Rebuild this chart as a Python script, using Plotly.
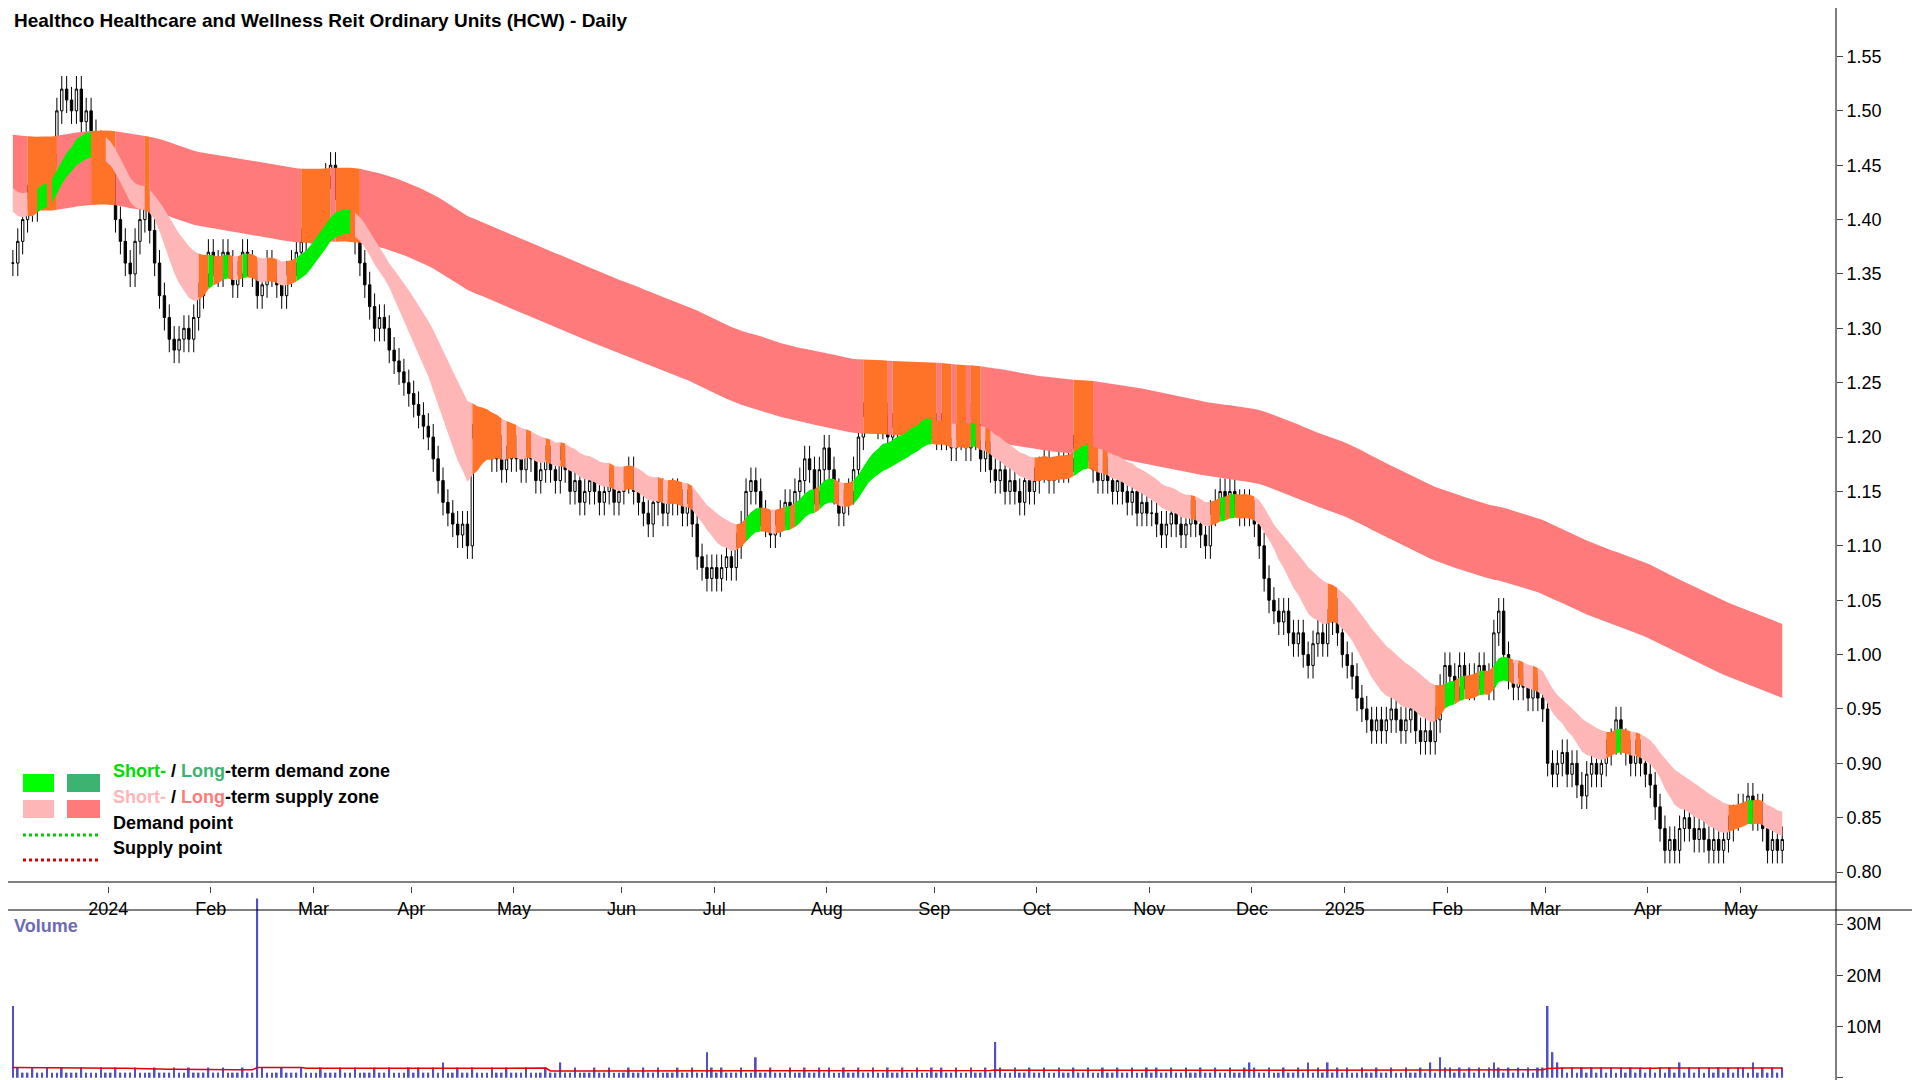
import numpy as np
import plotly.graph_objects as go
from plotly.subplots import make_subplots

# daily closes, grouped by month (Dec 2023 .. May 2025)
closes_by_month = [
    [1.36,1.38,1.40,1.42,1.41,1.44,1.45,1.43,1.46,1.50,1.52,1.51,1.50,1.52,1.49,1.50,1.48,1.47,1.46,1.45],
    [1.43,1.40,1.38,1.36,1.35,1.38,1.40,1.41,1.39,1.36,1.33,1.31,1.29,1.28,1.29,1.30,1.29,1.31,1.33,1.35,1.37],
    [1.36,1.35,1.37,1.36,1.34,1.35,1.37,1.36,1.35,1.33,1.34,1.36,1.35,1.34,1.33,1.35,1.36,1.37,1.38,1.39,1.41],
    [1.42,1.43,1.44,1.45,1.43,1.42,1.41,1.40,1.38,1.36,1.34,1.32,1.30,1.31,1.30,1.28,1.27,1.26,1.25,1.24],
    [1.23,1.22,1.21,1.20,1.18,1.16,1.14,1.13,1.12,1.11,1.12,1.10,1.20,1.19,1.21,1.20,1.18,1.19,1.17,1.18,1.19],
    [1.18,1.17,1.19,1.18,1.16,1.17,1.18,1.17,1.16,1.18,1.17,1.15,1.16,1.14,1.15,1.16,1.15,1.14,1.15,1.16,1.14,1.15],
    [1.16,1.17,1.15,1.14,1.13,1.12,1.14,1.15,1.13,1.14,1.15,1.14,1.13,1.14,1.12,1.09,1.08,1.07,1.08],
    [1.07,1.08,1.09,1.08,1.10,1.12,1.15,1.16,1.15,1.13,1.12,1.11,1.12,1.13,1.14,1.13,1.15,1.16,1.18,1.17,1.15,1.17,1.19],
    [1.17,1.15,1.13,1.14,1.15,1.17,1.20,1.22,1.23,1.22,1.21,1.22,1.20,1.21,1.22,1.21,1.22,1.23,1.22,1.24,1.23,1.21],
    [1.20,1.21,1.20,1.19,1.20,1.21,1.19,1.22,1.20,1.18,1.19,1.17,1.16,1.17,1.15,1.16,1.15,1.14,1.16,1.15,1.16],
    [1.17,1.18,1.16,1.17,1.18,1.17,1.18,1.19,1.20,1.21,1.19,1.17,1.16,1.17,1.16,1.15,1.16,1.15,1.14,1.15,1.13,1.14,1.13],
    [1.13,1.12,1.11,1.12,1.13,1.12,1.11,1.12,1.13,1.12,1.11,1.10,1.13,1.14,1.15,1.14,1.15,1.14,1.13,1.14,1.13],
    [1.12,1.10,1.07,1.05,1.04,1.03,1.04,1.02,1.01,1.02,1.00,0.99,1.01,1.02,1.01,1.03,1.04,1.02,1.00],
    [0.99,0.98,0.96,0.95,0.94,0.93,0.94,0.93,0.94,0.95,0.94,0.93,0.94,0.95,0.93,0.92,0.93,0.92,0.94,0.97,0.99],
    [0.98,0.97,0.99,0.98,0.97,0.98,0.99,0.98,0.97,1.02,1.04,1.00,0.98,0.97,0.98,0.97,0.96,0.97,0.96,0.95],
    [0.90,0.89,0.90,0.91,0.89,0.90,0.88,0.87,0.89,0.90,0.89,0.90,0.91,0.92,0.94,0.92,0.91,0.90,0.91,0.90,0.89],
    [0.88,0.86,0.84,0.82,0.83,0.82,0.84,0.85,0.84,0.83,0.84,0.83,0.82,0.83,0.82,0.83,0.84,0.85,0.86],
    [0.86,0.87,0.85,0.86,0.84,0.82,0.83,0.82,0.83],
]
# daily volume in millions, same grouping
volume_by_month = [
    [14,2,1,1,2,1,1,2,1,1,2,1,1,1,2,1,1,1,2,1],
    [1,2,1,1,1,2,1,1,1,2,1,1,1,2,1,1,2,1,1,1,2],
    [1,1,2,1,1,1,2,1,1,35,2,1,1,1,2,1,1,1,2,1,1],
    [1,2,1,1,1,2,1,1,2,1,1,1,2,1,1,2,1,1,1,2],
    [1,2,1,1,2,1,3,1,1,2,1,1,2,1,1,1,2,1,1,2,1],
    [1,1,2,1,1,1,2,1,1,3,1,1,2,1,1,1,2,1,1,2,1,1],
    [1,2,1,1,2,1,1,2,1,1,1,2,1,1,2,1,1,5,2],
    [1,2,1,1,1,2,1,1,4,1,1,2,1,1,1,2,1,1,2,1,1,2,1],
    [2,1,1,2,1,1,2,1,1,2,1,1,2,1,1,2,1,1,2,1,1,2],
    [1,2,1,1,2,1,1,2,1,1,2,1,7,2,1,1,2,1,1,2,1],
    [1,2,1,1,2,1,1,2,1,1,2,1,1,2,1,1,2,1,1,2,1,1,2],
    [1,2,1,1,2,1,1,2,1,1,2,1,1,2,1,1,2,1,1,2,3],
    [2,1,1,2,1,1,2,1,1,2,1,3,1,2,1,3,1,2,1],
    [2,1,1,2,1,1,2,1,1,2,1,1,2,1,1,2,1,3,1,4,2],
    [2,1,2,1,2,1,2,1,2,3,2,1,2,1,2,1,2,1,2,2],
    [14,5,3,2,1,2,1,2,1,2,1,2,1,2,1,2,1,2,1,2,1],
    [2,1,2,1,2,1,3,1,2,1,2,1,2,1,2,1,2,1,2],
    [2,1,3,1,2,1,2,1,2],
]
month_labels = ["2024","Feb","Mar","Apr","May","Jun","Jul","Aug","Sep","Oct","Nov","Dec",
                "2025","Feb","Mar","Apr","May"]

close = np.array([c for m in closes_by_month for c in m])
vol = np.array([v for m in volume_by_month for v in m], dtype=float) * 1e6
n = len(close)
x = np.arange(n)
month_starts = np.cumsum([len(m) for m in closes_by_month])[:-1]

opn = np.concatenate([[close[0]], close[:-1]])
high = np.maximum(opn, close) + 0.012
low = np.minimum(opn, close) - 0.012


def ema(s, span, seed=None):
    a = 2 / (span + 1)
    out = np.empty(len(s))
    prev = s[0] if seed is None else seed
    for i, v in enumerate(s):
        prev = prev + a * (v - prev)
        out[i] = prev
    return out

# long-term band
lc = ema(close, 180, seed=1.445)
l_hi, l_lo = lc + 0.034, lc - 0.034
# short-term band
e1, e2 = ema(close, 12, seed=1.42), ema(close, 30, seed=1.43)
mid = (e1 + e2) / 2
half = np.maximum(np.abs(e1 - e2) / 2, 0.011)
s_hi, s_lo = mid + half, mid - half

fig = make_subplots(rows=2, cols=1, shared_xaxes=True, vertical_spacing=0,
                    row_heights=[0.81, 0.19])


def add_band(hi, lo, colors):
    i = 0
    while i < n:
        j = i
        while j + 1 < n and colors[j + 1] == colors[i]:
            j += 1
        k = min(j + 1, n - 1)
        xs = list(x[i:k + 1]) + list(x[i:k + 1][::-1])
        ys = list(hi[i:k + 1]) + list(lo[i:k + 1][::-1])
        fig.add_trace(go.Scatter(x=xs, y=ys, fill="toself", fillcolor=colors[i],
                                 line=dict(width=0), mode="lines", hoverinfo="skip"),
                      row=1, col=1)
        i = j + 1

lcol = ["#ff7328" if l_lo[i] <= close[i] <= l_hi[i] else "#ff7b7b" for i in range(n)]
scol = []
for i in range(n):
    if s_lo[i] <= close[i] <= s_hi[i]:
        scol.append("#ff7328")
    elif close[i] < s_lo[i]:
        scol.append("#ffb6b6")
    else:
        scol.append("#00ee00")
add_band(l_hi, l_lo, lcol)
add_band(s_hi, s_lo, scol)

fig.add_trace(go.Candlestick(x=x, open=opn, high=high, low=low, close=close,
                             increasing=dict(line=dict(color="black", width=1), fillcolor="white"),
                             decreasing=dict(line=dict(color="black", width=1), fillcolor="black"),
                             whiskerwidth=0), row=1, col=1)

fig.add_trace(go.Bar(x=x, y=vol, marker=dict(color="#5050c8", line=dict(width=0)), width=0.35),
              row=2, col=1)
vavg = np.array([vol[max(0, i - 59):i + 1].mean() for i in range(n)])
fig.add_trace(go.Scatter(x=x, y=np.minimum(vavg, 2.0e6), mode="lines",
                         line=dict(color="#e00000", width=1.5)), row=2, col=1)

W, H, L, R, T, B = 1920, 1080, 0, 92, 18, 0
pw, ph = W - L - R, H - T - B
px = lambda v: v / pw
py = lambda v: (H - v) / ph

# legend
rows = [(775, "#00ff00", "#3cb371",
         "<span style='color:#00dd00'>Short-</span> / <span style='color:#3cb371'>Long</span>-term demand zone"),
        (801, "#ffb6b6", "#ff7b7b",
         "<span style='color:#ffb6b6'>Short-</span> / <span style='color:#ff7b7b'>Long</span>-term supply zone")]
shapes = []
for yy, c1, c2, txt in rows:
    shapes.append(dict(type="rect", xref="paper", yref="paper", x0=px(15), x1=px(46),
                       y0=py(yy + 9), y1=py(yy - 9), fillcolor=c1, line=dict(width=0)))
    shapes.append(dict(type="rect", xref="paper", yref="paper", x0=px(59), x1=px(92),
                       y0=py(yy + 9), y1=py(yy - 9), fillcolor=c2, line=dict(width=0)))
    fig.add_annotation(x=px(103), y=py(yy), xref="paper", yref="paper", text="<b>" + txt + "</b>",
                       showarrow=False, xanchor="left", font=dict(size=18, color="black", family="Arial"))
for yy, c, txt in [(827, "#00cc00", "Demand point"), (852, "#dd0000", "Supply point")]:
    shapes.append(dict(type="line", xref="paper", yref="paper", x0=px(15), x1=px(92),
                       y0=py(yy), y1=py(yy), line=dict(color=c, width=3, dash="dot")))
    fig.add_annotation(x=px(103), y=py(yy), xref="paper", yref="paper", text="<b>" + txt + "</b>",
                       showarrow=False, xanchor="left", font=dict(size=18, color="black", family="Arial"))

shapes.append(dict(type="line", xref="paper", yref="paper", x0=0, x1=1 + R / pw,
                   y0=py(902), y1=py(902), line=dict(color="black", width=1)))
shapes.append(dict(type="line", xref="paper", yref="paper", x0=0, x1=1,
                   y0=py(874), y1=py(874), line=dict(color="black", width=1)))
shapes.append(dict(type="line", xref="paper", yref="paper", x0=1, x1=1,
                   y0=0, y1=1 + T / ph, line=dict(color="black", width=1)))

fig.add_annotation(x=0.002, y=1 + T / ph, xref="paper", yref="paper", yanchor="top",
                   text="<b>Healthco Healthcare and Wellness Reit Ordinary Units (HCW) - Daily</b>",
                   showarrow=False, xanchor="left", font=dict(size=19, color="black", family="Arial"))
fig.add_annotation(x=0.002, y=py(906), xref="paper", yref="paper", yanchor="top",
                   text="<b>Volume</b>", showarrow=False, xanchor="left",
                   font=dict(size=18, color="#6c6cb4", family="Arial"))

fig.update_layout(width=W, height=H, margin=dict(l=L, r=R, t=T, b=B), showlegend=False,
                  plot_bgcolor="white", paper_bgcolor="white", shapes=shapes,
                  font=dict(family="Arial", color="black"))
fig.update_xaxes(range=[-1, n + 10], showgrid=False, zeroline=False, rangeslider_visible=False)
fig.update_xaxes(row=1, col=1, tickvals=month_starts - 0.5, ticktext=month_labels, ticks="outside",
                 ticklen=6, showticklabels=True,
                 tickfont=dict(size=18, family="Arial Black, Arial"))
fig.update_xaxes(row=2, col=1, showticklabels=False)
fig.update_yaxes(row=1, col=1, side="right", range=[0.787, 1.578], showgrid=False, zeroline=False,
                 tickvals=[0.80, 0.85, 0.90, 0.95, 1.00, 1.05, 1.10, 1.15, 1.20, 1.25, 1.30, 1.35,
                           1.40, 1.45, 1.50, 1.55],
                 tickformat=".2f", ticks="outside", ticklen=6,
                 tickfont=dict(size=18, family="Arial Black, Arial"))
fig.update_yaxes(row=2, col=1, side="right", range=[-2.0e6, 37.4e6], showgrid=False, zeroline=False,
                 tickvals=[0, 10e6, 20e6, 30e6], ticktext=["0", "10M", "20M", "30M"],
                 ticks="outside", ticklen=6, tickfont=dict(size=18, family="Arial Black, Arial"))
fig.write_html("out.html")
